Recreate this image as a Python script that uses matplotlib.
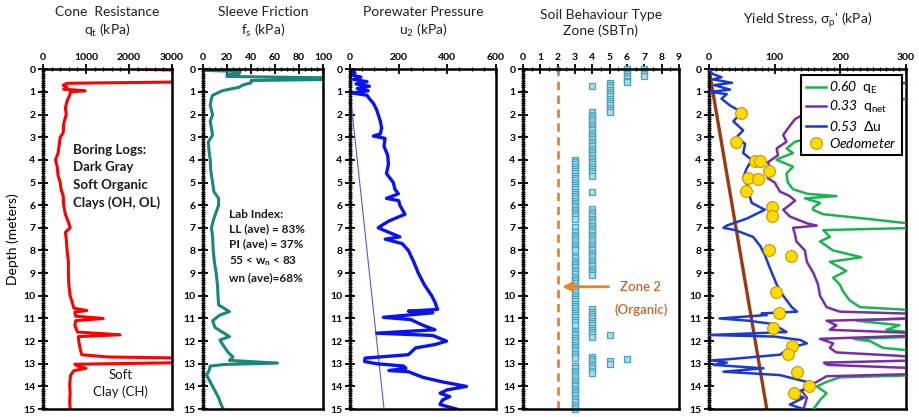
"""
CPT profiles: cone resistance, sleeve friction, porewater pressure,
SBTn zones and yield stress with depth.
"""

import matplotlib
matplotlib.use("Agg")
import matplotlib.pyplot as plt
from matplotlib.ticker import MultipleLocator

plt.rcParams['font.family'] = ['Lato', 'DejaVu Sans']
plt.rcParams['mathtext.fontset'] = 'custom'
plt.rcParams['mathtext.rm'] = 'Lato'
plt.rcParams['mathtext.it'] = 'Lato:italic'
plt.rcParams['mathtext.bf'] = 'Lato:bold'
# italic digits for legend coefficients (mathit forces digits upright)
plt.rcParams['mathtext.sf'] = 'Lato:italic'

# ---- cone resistance qt (kPa)
qt_depth = [0.0, 0.05, 0.56, 0.62, 0.7, 0.8, 0.88, 0.95, 1.0, 1.15, 1.4, 1.7, 2.0, 2.4,
            2.8, 3.0, 3.3, 3.7, 4.0, 4.3, 4.7, 5.0, 5.3, 5.6, 6.0, 6.4, 6.8, 7.0, 7.2,
            7.5, 8.0, 8.5, 9.0, 9.5, 10.0, 10.3, 10.55, 10.65, 10.72, 10.9, 11.0, 11.1,
            11.3, 11.6, 11.72, 11.8, 12.0, 12.3, 12.6, 12.7, 12.75, 12.95, 13.02, 13.1,
            13.2, 13.3, 13.5, 13.9, 14.3, 14.7, 15.0]
qt_val = [2250, 3300, 3300, 560, 470, 560, 480, 980, 640, 620, 560, 520, 540, 480,
          470, 400, 380, 350, 290, 330, 350, 400, 420, 470, 480, 520, 600, 630, 520,
          540, 560, 590, 590, 600, 630, 680, 720, 1020, 740, 760, 1400, 760,
          740, 800, 1790, 820, 830, 860, 900, 1500, 3300, 3300, 740, 800,
          1000, 720, 640, 620, 630, 620, 630]

# ---- sleeve friction fs (kPa)
fs_depth = [0.0, 0.05, 0.1, 0.2, 0.25, 0.32, 0.38, 0.45, 0.5, 0.6, 0.7, 0.8, 0.85, 0.95,
            1.05, 1.15, 1.3, 1.6, 2.0, 2.3, 2.6, 2.9, 3.2, 3.6, 4.0, 4.5, 5.0, 5.4, 5.7,
            6.0, 6.3, 6.6, 7.0, 7.4, 8.0, 8.5, 9.0, 9.5, 10.0, 10.4, 10.7, 10.85, 11.1,
            11.4, 11.8, 11.95, 12.2, 12.5, 12.7, 12.85, 12.97, 13.03, 13.1, 13.3, 13.5,
            13.8, 14.1, 14.5, 14.8, 15.0]
fs_val = [0, 1, 31, 30, 20, 20, 105, 105, 40, 40, 33, 30, 25, 16,
          12, 8, 7, 6, 8, 6, 7, 8, 4.5, 5, 6, 6.5, 8, 9, 13,
          13, 11, 9, 7, 8, 8.5, 9.5, 11, 12, 12.5, 13, 22, 14, 8,
          10, 22, 14, 17, 21, 25, 22, 62, 18, 6, 5, 3,
          6, 9, 13, 15, 17]

# ---- porewater pressure u2 (kPa) and hydrostatic u0
u2_depth = [0.0, 0.15, 0.25, 0.35, 0.45, 0.55, 0.65, 0.75, 0.85, 0.95, 1.05, 1.15, 1.3,
            1.5, 1.8, 2.0, 2.3, 2.6, 2.85, 2.95, 3.05, 3.4, 3.8, 4.2, 4.6, 5.0, 5.3,
            5.5, 5.7, 5.8, 6.0, 6.4, 6.7, 6.85, 7.0, 7.2, 7.4, 7.5, 7.7, 8.0, 8.5, 9.0,
            9.5, 10.0, 10.3, 10.6, 10.68, 10.75, 10.95, 11.05, 11.3, 11.5, 11.65, 11.75,
            12.0, 12.15, 12.3, 12.6, 12.75, 12.9, 13.0, 13.1, 13.2, 13.3, 13.35, 13.6,
            13.8, 14.0, 14.15, 14.3, 14.45, 14.6, 14.8, 15.0]
u2_val = [0, 20, 8, 45, 15, 70, 25, 80, 30, 75, 10, 70, 80,
          96, 110, 116, 125, 130, 125, 96, 144, 140, 155, 158, 150, 178, 185,
          199, 150, 200, 205, 226, 160, 137, 116, 160, 205, 145, 215, 240, 262, 281,
          305, 336, 350, 360, 240, 340, 137, 250, 300, 349, 110, 340,
          397, 350, 270, 240, 62, 60, 110, 220, 230, 160, 240, 300,
          380, 479, 400, 370, 410, 380, 370, 438]
u0_depth = [1.0, 15.0]
u0_val = [0, 140]

# ---- SBTn zones
zone2_depth = [0.0]
zone3_depth = [4.0, 4.1, 4.2, 4.3, 4.4, 4.5, 4.6, 4.7, 4.8, 4.9, 5.0, 5.1, 5.2, 5.3, 5.4,
               5.5, 5.6, 5.7, 5.8, 5.9, 6.0, 6.1, 6.2, 6.3, 6.4, 6.5, 6.6, 6.95,
               7.2, 7.3, 7.4, 7.5, 7.6, 7.7, 7.8, 7.9, 8.0,
               8.25, 8.35, 8.45, 8.55, 8.65, 8.75, 8.85, 8.95, 9.05, 9.15, 9.25, 9.35,
               9.45, 9.55, 9.65, 9.75, 9.85, 9.95, 10.05, 10.15, 10.25, 10.35, 10.45,
               10.55, 10.65, 10.75, 10.85, 10.95, 11.05, 11.15, 11.3,
               11.55, 11.65, 11.75, 11.85, 11.95, 12.05, 12.15, 12.25, 12.35, 12.45,
               12.55, 12.65, 12.75,
               13.1, 13.2, 13.3, 13.4, 13.5, 13.6, 13.7, 13.8, 13.9, 14.0, 14.1, 14.2,
               14.3, 14.4, 14.5, 14.6, 14.7, 14.8, 14.9, 15.0]
zone4_depth = [0.75, 1.9, 2.0, 2.1, 2.2, 2.3, 2.4, 2.5, 2.6, 2.7, 2.8, 2.9, 3.0, 3.1, 3.2,
               3.3, 3.4, 3.5, 3.6, 3.7, 3.8, 3.9, 4.0, 4.1, 4.2, 4.3, 4.4, 4.5, 4.6, 4.7,
               5.4, 6.15, 6.3, 6.4, 6.5, 6.6, 6.7, 6.8, 6.9, 7.0, 7.1, 7.2, 7.3, 7.4,
               7.5, 7.6, 7.7, 7.8, 7.9, 8.0, 8.1, 8.2, 8.3, 8.4, 8.5, 8.6, 8.7, 8.8,
               8.9, 9.0, 9.1, 10.6, 10.7, 10.8, 10.9, 11.0, 11.1, 11.2, 11.3, 11.4, 11.5,
               11.6, 11.7, 11.8, 12.7, 12.8, 12.9, 13.0, 13.1, 13.2, 13.3, 13.4]
zone5_depth = [0.6, 0.7, 0.8, 0.9, 1.0, 1.1, 1.2, 1.3, 1.4, 1.5, 1.6, 1.7, 1.8, 1.9,
               11.75, 12.9, 13.0]
zone6_depth = [0.0, 0.1, 0.2, 0.3, 0.4, 0.5, 0.55, 12.8]
zone7_depth = [0.0, 0.1, 0.2, 0.3]

# ---- yield stress (kPa)
dq_depth = [0.0, 0.2, 0.35, 0.45, 0.6, 0.7, 0.8, 0.9, 1.0, 1.1, 1.3, 1.6, 1.9, 2.3, 2.7,
            3.0, 3.3, 3.7, 4.0, 4.4, 4.8, 5.2, 5.6, 5.9, 6.2, 6.6, 6.9, 7.0, 7.1, 7.4,
            7.8, 8.2, 8.8, 9.5, 10.0, 10.5, 10.7, 10.78, 10.85, 11.0, 11.1, 11.25, 11.6,
            11.73, 11.8, 11.95, 12.1, 12.3, 12.6, 12.8, 12.85, 12.95, 13.05, 13.2, 13.35,
            13.5, 13.8, 14.0, 14.3, 14.5, 14.8, 15.0]
du_yield = [0, 5, 19, 6, 35, 8, 20, 32, 2, 27, 19, 32, 50, 37, 52,
            42, 55, 52, 65, 57, 52, 60, 62, 65, 85, 57, 27, 22, 40, 67,
            78, 85, 93, 103, 113, 126, 134, 80, 88, 16, 60, 98, 118,
            1, 100, 139, 149, 123, 108, 30, 4, 27, 7, 83, 22,
            108, 149, 159, 128, 144, 123, 144]

qnet_depth = [0.3, 0.6, 0.65, 0.9, 1.0, 1.3, 1.6, 1.9, 2.2, 2.5, 2.9, 3.2, 3.5, 3.8, 4.1,
              4.5, 4.8, 5.0, 5.4, 5.6, 5.8, 6.1, 6.2, 6.5, 6.8, 6.9, 7.0, 7.3, 7.6, 8.0,
              8.5, 9.0, 9.5, 10.0, 10.5, 10.7, 10.8, 11.0, 11.1, 11.3, 11.5, 11.65, 11.75,
              11.9, 12.1, 12.3, 12.5, 12.65, 12.75, 12.85, 12.95, 13.05, 13.2, 13.45,
              13.55, 13.8, 14.0, 14.2, 14.5, 15.0]
qnet_yield = [320, 320, 170, 200, 170, 180, 160, 150, 131, 123, 113, 118, 103, 105, 90,
              93, 89, 100, 108, 123, 131, 118, 113, 123, 149, 164, 128, 131, 133, 146,
              149, 159, 166, 169, 179, 199, 320, 320, 179, 194, 184, 320, 320,
              169, 189, 184, 194, 290, 320, 320, 175, 180, 320, 320,
              179, 164, 149, 141, 149, 144]

qe_depth = [0.3, 0.6, 0.8, 1.0, 1.3, 1.6, 2.0, 2.5, 3.0, 3.2, 3.5, 3.7, 3.9, 4.0, 4.3,
            4.6, 5.0, 5.3, 5.5, 5.6, 5.7, 5.9, 6.1, 6.2, 6.4, 6.6, 6.75, 6.85, 7.0, 7.1,
            7.4, 7.6, 8.0, 8.3, 8.5, 8.9, 9.2, 9.5, 9.8, 10.2, 10.5, 10.65, 10.95, 11.1,
            11.3, 11.5, 11.65, 11.8, 11.9, 12.0, 12.3, 12.45, 13.5, 13.6, 13.8, 14.0,
            14.3, 14.6, 15.0]
qe_yield = [320, 320, 300, 320, 300, 250, 230, 200, 160, 131, 118, 128, 110, 103, 128,
            118, 120, 128, 150, 194, 146, 169, 159, 158, 174, 240, 286, 320, 320, 174,
            184, 169, 189, 232, 184, 209, 189, 199, 204, 214, 230, 320, 320, 225,
            290, 270, 320, 320, 220, 245, 265, 320, 320, 199, 179, 164,
            179, 169, 159]

svo_depth = [0.0, 15.0]
svo_val = [0, 88]

oed_depth = [1.95, 3.2, 4.06, 4.06, 4.5, 4.82, 4.85, 5.37, 6.1, 6.5, 7.98, 8.23, 9.85,
             10.78, 11.44, 12.2, 12.59, 13.38, 13.97, 14.28]
oed_yield = [49, 41, 70, 78, 92, 60, 74, 57, 96, 96, 92, 125, 102,
             106, 98, 127, 121, 134, 153, 130]

# axes layout in figure fractions [left, bottom, width, height]
BOTTOM, HEIGHT = 0.019, 0.815
panels = [
    dict(left=0.0468, width=0.1404, xmax=3000, major=1000, minor=200,
         title="Cone  Resistance\nq$_\\mathrm{t}$ (kPa)"),
    dict(left=0.2209, width=0.1306, xmax=100, major=20, minor=5,
         title="Sleeve Friction\nf$_\\mathrm{s}$ (kPa)"),
    dict(left=0.3808, width=0.1589, xmax=600, major=200, minor=50,
         title="Porewater Pressure\nu$_\\mathrm{2}$ (kPa)"),
    dict(left=0.5691, width=0.1697, xmax=9, major=1, minor=0.5,
         title="Soil Behaviour Type\nZone (SBTn)"),
    dict(left=0.7715, width=0.2144, xmax=300, major=100, minor=10,
         title="Yield Stress, \u03c3$_\\mathrm{p}$' (kPa)"),
]

fig = plt.figure(figsize=(9.19, 4.17), dpi=100)
axes = []
for p in panels:
    ax = fig.add_axes([p["left"], BOTTOM, p["width"], HEIGHT])
    ax.set_xlim(0, p["xmax"])
    ax.set_ylim(15, 0)
    ax.xaxis.tick_top()
    ax.xaxis.set_major_locator(MultipleLocator(p["major"]))
    ax.xaxis.set_minor_locator(MultipleLocator(p["minor"]))
    ax.yaxis.set_major_locator(MultipleLocator(1))
    ax.yaxis.set_minor_locator(MultipleLocator(0.1))
    ax.tick_params(axis='both', which='major', direction='inout', length=7, width=1.3,
                   labelsize=7.5, pad=2)
    ax.tick_params(axis='both', which='minor', direction='inout', length=3.5, width=0.9)
    ax.tick_params(axis='x', which='both', bottom=False, top=True)
    ax.tick_params(axis='y', which='both', right=False, left=True)
    for lab in ax.get_xticklabels() + ax.get_yticklabels():
        lab.set_fontweight('bold')
    for sp in ax.spines.values():
        sp.set_linewidth(1.8)
    title_y = 1.075 if "\n" in p["title"] else 1.11
    ax.set_title(p["title"], fontsize=10, y=title_y, linespacing=1.35, color='#222222')
    axes.append(ax)

ax1, ax2, ax3, ax4, ax5 = axes

# cone resistance
ax1.plot(qt_val, qt_depth, color='#ff0000', lw=2.2)
ax1.set_ylabel("Depth (meters)", fontsize=10, labelpad=3)
ax1.text(0.23, 0.78, "Boring Logs:\nDark Gray\nSoft Organic\nClays (OH, OL)",
         transform=ax1.transAxes, fontsize=9.5, fontweight='bold', va='top', ha='left',
         linespacing=1.55, color='#1a1a1a')
ax1.text(0.6, 0.075, "Soft\nClay (CH)", transform=ax1.transAxes, fontsize=9.5,
         ha='center', va='center', linespacing=1.45, color='#1a1a1a')

# sleeve friction
ax2.plot(fs_val, fs_depth, color='#17877f', lw=2.2)
ax2.text(0.22, 0.59,
         "Lab Index:\nLL (ave) = 83%\nPI (ave) = 37%\n55 < w$_\\mathbf{n}$ < 83\nwn (ave)=68%",
         transform=ax2.transAxes, fontsize=8.5, fontweight='bold', va='top', ha='left',
         linespacing=1.45, color='#1a1a1a')

# porewater pressure
ax3.plot(u0_val, u0_depth, color='#5858e0', lw=0.8)
ax3.plot(u2_val, u2_depth, color='#0a14f0', lw=2.4)

# soil behaviour type
ax4.axvline(2, color='#e8832a', lw=2, ls=(0, (3, 2)))
sbt_style = dict(ls='none', marker='s', ms=5, mfc='#a8dcea', mec='#4aa3bd', mew=0.9)
ax4.plot([2] * len(zone2_depth), zone2_depth, ls='none', marker='o', ms=3,
         color='#4a78c0', clip_on=False)
for zone, depths in [(3, zone3_depth), (4, zone4_depth), (5, zone5_depth),
                     (6, zone6_depth), (7, zone7_depth)]:
    ax4.plot([zone] * len(depths), depths, clip_on=False, **sbt_style)
ax4.annotate("", xy=(2.1, 9.6), xytext=(5.1, 9.6),
             arrowprops=dict(arrowstyle='-|>', color='#e8832a', lw=2,
                             mutation_scale=14))
ax4.text(6.8, 9.6, "Zone 2", fontsize=9.5, fontweight='semibold', color='#c4692a',
         ha='center', va='center')
ax4.text(6.8, 10.6, "(Organic)", fontsize=9.5, fontweight='semibold', color='#c4692a',
         ha='center', va='center')

# yield stress
ax5.plot(svo_val, svo_depth, color='#9a3a10', lw=2.4, zorder=2)
l_qe, = ax5.plot(qe_yield, qe_depth, color='#1db34f', lw=1.8, zorder=3)
l_qnet, = ax5.plot(qnet_yield, qnet_depth, color='#7a2ea3', lw=1.8, zorder=3)
l_du, = ax5.plot(du_yield, dq_depth, color='#1a3ad0', lw=1.8, zorder=3)
l_oed, = ax5.plot(oed_yield, oed_depth, ls='none', marker='o', ms=8.5,
                  mfc='#ffdc00', mec='#c89600', mew=0.8, zorder=4)
leg = ax5.legend([l_qe, l_qnet, l_du, l_oed],
                 ["$\\mathsf{0.60}$  q$_\\mathrm{E}$",
                  "$\\mathsf{0.33}$  q$_\\mathrm{net}$",
                  "$\\mathsf{0.53}$  \u0394u",
                  "$\\mathsf{Oedometer}$"],
                 loc='upper right', bbox_to_anchor=(0.978, 0.984), borderaxespad=0,
                 fontsize=10, handlelength=1.5, handletextpad=0.2, labelspacing=0.25,
                 borderpad=0.35, fancybox=False, framealpha=1, edgecolor='black')
leg.get_frame().set_linewidth(1.5)
leg.set_zorder(10)

fig.savefig("out.png", dpi=100)
